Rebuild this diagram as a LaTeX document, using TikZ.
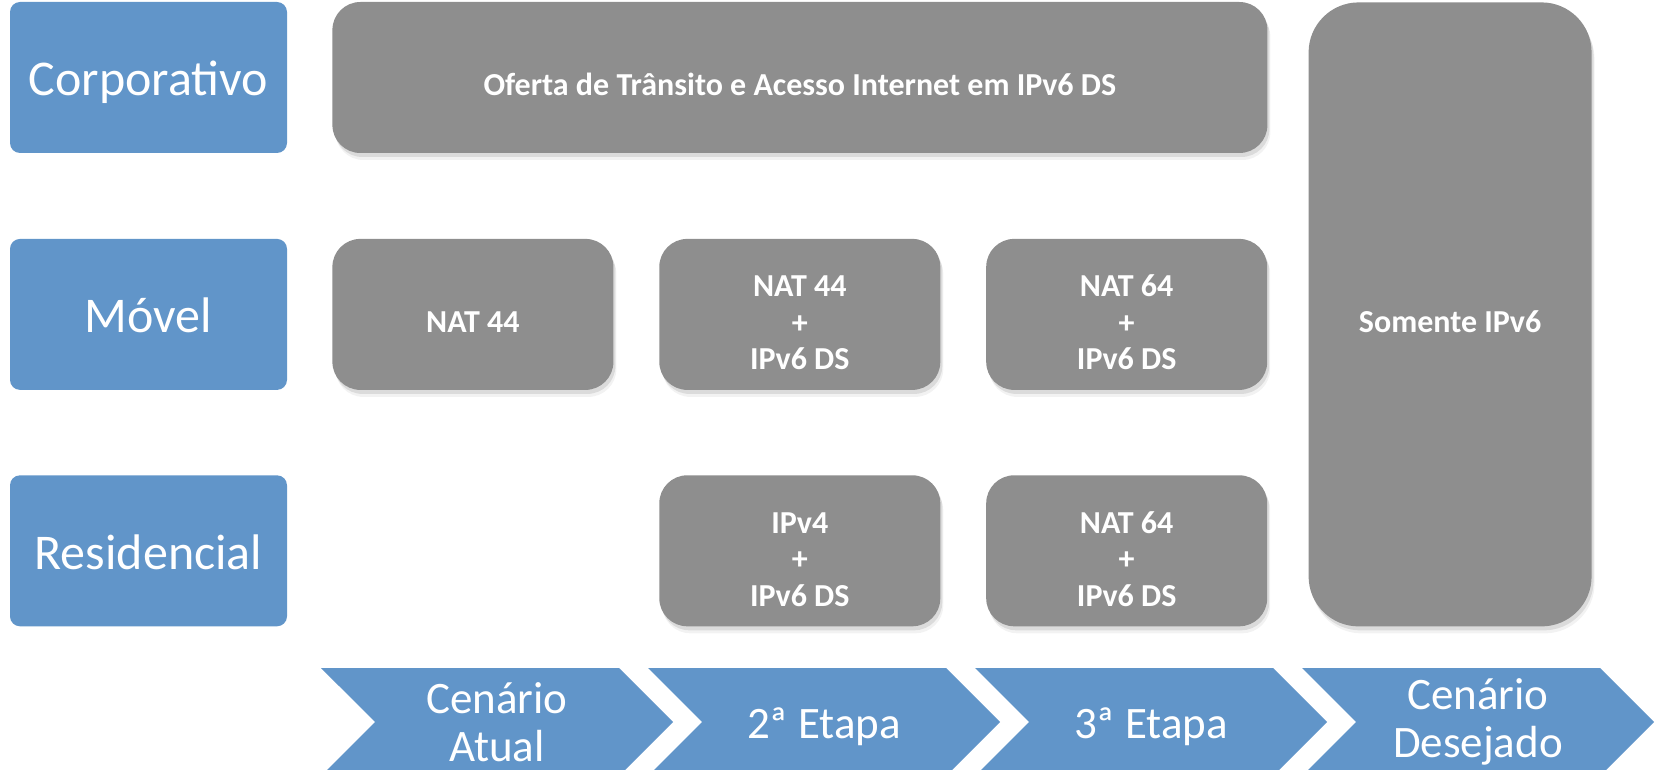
\documentclass[tikz,border=0pt]{standalone}
\usepackage{fontspec}
\setmainfont{Carlito}
\usepackage{tikz}
\usetikzlibrary{positioning,shadows,shapes.symbols}
\definecolor{segblue}{HTML}{6195C9}
\definecolor{cellgray}{HTML}{8E8E8E}
\newcommand{\cellstrut}{\rule{0pt}{38pt}}
\tikzset{
  seg/.style={fill=segblue, rounded corners=10pt, text=white, inner sep=0pt,
              minimum width=277pt, minimum height=151pt,
              font=\fontsize{50}{56}\selectfont,
              text height=37pt, text depth=0pt},
  cell/.style={fill=cellgray, rounded corners=28pt, text=white, align=center,
               inner sep=0pt, minimum width=281pt, minimum height=151pt,
               font=\bfseries\fontsize{32}{36.4}\selectfont,
               execute at begin node={\rule{0pt}{37pt}},
               drop shadow={shadow xshift=3pt, shadow yshift=-7pt, opacity=0.1},
               drop shadow={shadow xshift=2pt, shadow yshift=-4pt, opacity=0.2}},
  stage/.style={signal, signal from=west, signal to=east, signal pointer angle=90,
                fill=segblue, text=white, align=center, inner sep=0pt,
                minimum width=352pt, minimum height=108pt,
                font=\fontsize{45}{48}\selectfont,
                execute at begin node={\rule{0pt}{40pt}}}
}
\begin{document}
\begin{tikzpicture}[x=1pt, y=-1pt]
  \useasboundingbox (0,0) rectangle (1655,770);
  % segmentos
  \node[seg] (corp) at (148.5,77.5) {Corporativo};
  \node[seg, below=85.5pt of corp] (movel) {Móvel};
  \node[seg, below=85pt of movel] (resid) {Residencial};
  % ofertas
  \node[cell, minimum width=935pt, right=45pt of corp] (oferta) {Oferta de Trânsito e Acesso Internet em IPv6 DS};
  \node[cell, right=45pt of movel] (nat1) {NAT 44};
  \node[cell, right=45.5pt of nat1] (nat2) {\cellstrut NAT 44\\+\\IPv6 DS};
  \node[cell, right=45.5pt of nat2] (nat3) {\cellstrut NAT 64\\+\\IPv6 DS};
  \node[cell, below=85pt of nat2] (res2) {\cellstrut IPv4\\+\\IPv6 DS};
  \node[cell, below=85pt of nat3] (res3) {\cellstrut NAT 64\\+\\IPv6 DS};
  \node[cell, rounded corners=50pt, minimum width=283pt, minimum height=624pt,
        right=41pt of nat3] (so6) {Somente IPv6};
  % etapas
  \node[stage] (et1) at (497,722) {Cenário\\Atual};
  \node[stage] (et2) at (824,722) {2ª Etapa};
  \node[stage] (et3) at (1151,722) {3ª Etapa};
  \node[stage] (et4) at (1478,722) {Cenário\\Desejado};
\end{tikzpicture}
\end{document}
